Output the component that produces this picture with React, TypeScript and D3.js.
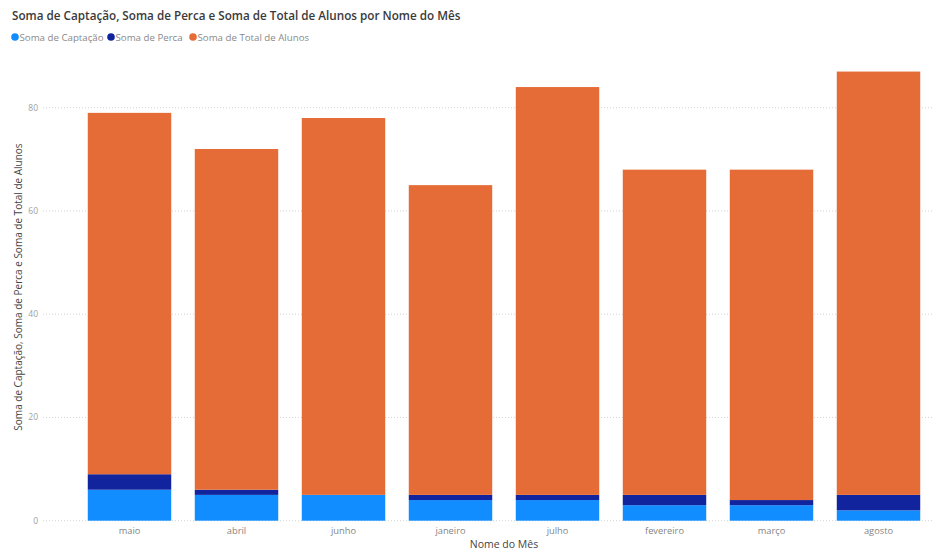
import React from "react";
import * as d3 from "d3";

const months = ["maio", "abril", "junho", "janeiro", "julho", "fevereiro", "março", "agosto"];
const captacao = [6, 5, 5, 4, 4, 3, 3, 2];
const perca = [3, 1, 0, 1, 1, 2, 1, 3];
const totalAlunos = [70, 66, 73, 60, 79, 63, 64, 82];
const yTicks = [0, 20, 40, 60, 80];

const seriesNames = ["Soma de Captação", "Soma de Perca", "Soma de Total de Alunos"];
const seriesColors = ["#118DFF", "#12239E", "#E66C37"];

const W = 939;
const H = 557;
const FONT = "'Open Sans', 'Segoe UI', sans-serif";

export default function App() {
  const x = d3
    .scaleBand<string>()
    .domain(months)
    .range([76, 932])
    .paddingInner(0.22)
    .paddingOuter(0.11);

  const y = d3.scaleLinear().domain([0, 80]).range([520.7, 107.7]);

  const rows = months.map((m, i) => ({
    month: m,
    cap: captacao[i],
    perca: perca[i],
    total: totalAlunos[i],
  }));

  const stacked = d3.stack<any>().keys(["cap", "perca", "total"])(rows);

  const legendX = [15, 111, 193];

  return (
    <svg width={W} height={H} style={{ position: "absolute", left: 0, top: 0, background: "#fff" }}>
      <text x={12} y={20} fontFamily={FONT} fontSize={11.7} fill="#3a3a3a" fontWeight={600}>
        Soma de Captação, Soma de Perca e Soma de Total de Alunos por Nome do Mês
      </text>

      {seriesNames.map((name, i) => (
        <g key={name}>
          <circle cx={legendX[i]} cy={37} r={3.8} fill={seriesColors[i]} />
          <text x={legendX[i] + 4.5} y={40.5} fontFamily={FONT} fontSize={9.7} fill="#8a8a8a">
            {name}
          </text>
        </g>
      ))}

      {yTicks.map((t) => (
        <g key={t}>
          <line
            x1={43}
            x2={932}
            y1={y(t)}
            y2={y(t)}
            stroke="#d4d4d4"
            strokeWidth={1}
            strokeDasharray="1,2"
          />
          <text
            x={38}
            y={y(t) + 3}
            textAnchor="end"
            fontFamily={FONT}
            fontSize={8.5}
            fill="#a0a0a0"
          >
            {t}
          </text>
        </g>
      ))}

      {stacked.map((layer, si) => (
        <g key={si} fill={seriesColors[si]}>
          {layer.map((d: any) => (
            <rect
              key={d.data.month}
              x={x(d.data.month)}
              y={y(d[1])}
              width={x.bandwidth()}
              height={Math.max(0, y(d[0]) - y(d[1]))}
            />
          ))}
        </g>
      ))}

      {months.map((m) => (
        <text
          key={m}
          x={(x(m) as number) + x.bandwidth() / 2}
          y={534}
          textAnchor="middle"
          fontFamily={FONT}
          fontSize={9.3}
          fill="#858585"
        >
          {m}
        </text>
      ))}

      <text x={504} y={548} textAnchor="middle" fontFamily={FONT} fontSize={10.5} fill="#444">
        Nome do Mês
      </text>

      <text
        transform={`translate(22, 287) rotate(-90)`}
        textAnchor="middle"
        fontFamily={FONT}
        fontSize={10}
        fill="#444"
      >
        Soma de Captação, Soma de Perca e Soma de Total de Alunos
      </text>
    </svg>
  );
}
